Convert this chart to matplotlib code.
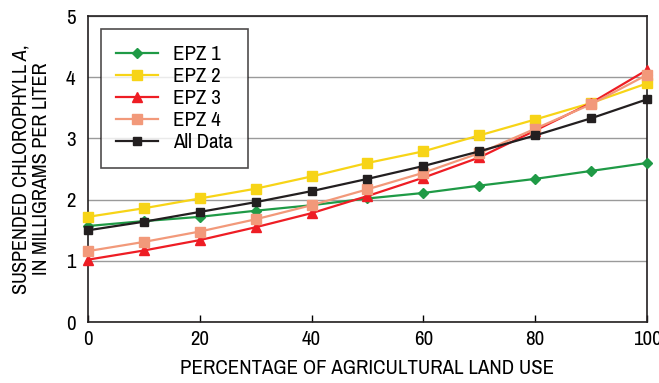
import matplotlib
matplotlib.use("Agg")
import matplotlib.pyplot as plt

FONT = 'Archivo Narrow'
plt.rcParams['font.family'] = [FONT, 'Liberation Sans Narrow', 'DejaVu Sans']
plt.rcParams['mathtext.fontset'] = 'custom'
plt.rcParams['mathtext.rm'] = FONT
plt.rcParams['mathtext.it'] = FONT + ':italic'

# percentage of agricultural land use
ag_pct = [0, 10, 20, 30, 40, 50, 60, 70, 80, 90, 100]

epz1 = [1.57, 1.65, 1.72, 1.82, 1.91, 2.02, 2.11, 2.23, 2.34, 2.47, 2.60]
epz2 = [1.72, 1.86, 2.02, 2.18, 2.38, 2.60, 2.79, 3.05, 3.31, 3.58, 3.90]
epz3 = [1.02, 1.17, 1.34, 1.55, 1.78, 2.06, 2.36, 2.69, 3.13, 3.58, 4.12]
epz4 = [1.16, 1.31, 1.48, 1.68, 1.91, 2.17, 2.44, 2.76, 3.16, 3.56, 4.04]
all_data = [1.50, 1.64, 1.80, 1.96, 2.14, 2.34, 2.55, 2.79, 3.05, 3.33, 3.64]

series = [
    ("EPZ 1", epz1, "#1f9a46", "D", 5.5),
    ("EPZ 2", epz2, "#f7d417", "s", 6.5),
    ("EPZ 3", epz3, "#ee1d24", "^", 6.5),
    ("EPZ 4", epz4, "#f2997a", "s", 6.5),
    ("All Data", all_data, "#231f20", "s", 6),
]

fig = plt.figure(figsize=(6.59, 3.83), dpi=100)
ax = fig.add_axes([0.1335, 0.159, 0.8483, 0.799])

for label, vals, col, mk, ms in series:
    ax.plot(ag_pct, vals, color=col, marker=mk, markersize=ms, linewidth=1.6,
            label=label, clip_on=False, zorder=3)

ax.set_xlim(0, 100)
ax.set_ylim(0, 5)
ax.set_xticks([0, 20, 40, 60, 80, 100])
ax.set_yticks([0, 1, 2, 3, 4, 5])
ax.tick_params(axis='x', direction='in', length=5, width=1, labelsize=15, pad=6)
ax.tick_params(axis='y', length=0, labelsize=15, pad=9)
ax.grid(axis='y', color='#9a9a9a', linewidth=1)
ax.set_axisbelow(True)
for s in ax.spines.values():
    s.set_color('#231f20')
    s.set_linewidth(1.2)

ax.set_xlabel("PERCENTAGE OF AGRICULTURAL LAND USE", fontsize=15, labelpad=7)
ax.set_ylabel("SUSPENDED CHLOROPHYLL $\\mathit{A}$,\nIN MILLIGRAMS PER LITER",
              fontsize=14.5, labelpad=11, linespacing=1.05)

leg = ax.legend(loc='upper left', bbox_to_anchor=(0.023, 0.957), borderaxespad=0,
                fontsize=15, frameon=True, fancybox=False, edgecolor='#231f20',
                handlelength=2.0, labelspacing=0.15, borderpad=0.75,
                handletextpad=0.7)
leg.get_frame().set_linewidth(1.2)

fig.savefig("out.png", dpi=100)
